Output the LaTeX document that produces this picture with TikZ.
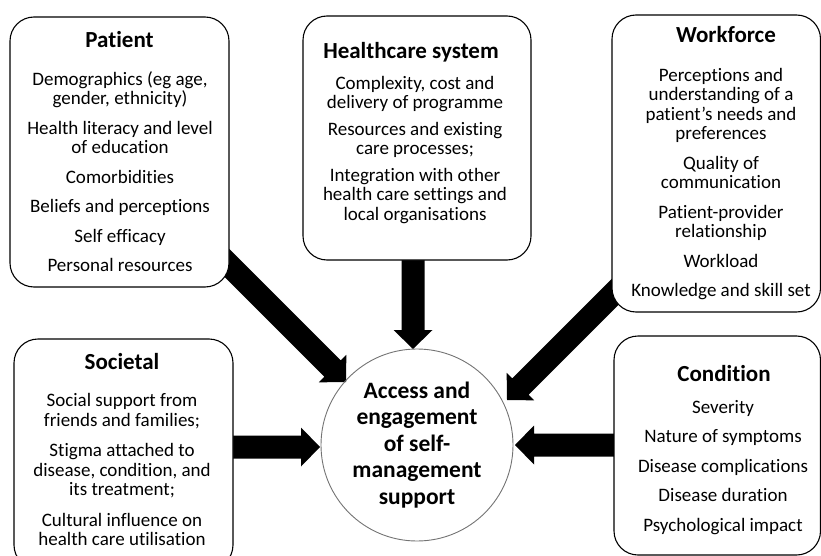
\documentclass[tikz,border=0pt]{standalone}
\usepackage{fontspec}
\setmainfont{Carlito}[Ligatures=NoCommon]
\usetikzlibrary{calc,backgrounds}

% thick block arrow: #1 prefix, #2 tail, #3 tip
\newcommand\blockarrow[3]{%
  \path ($(#3)!19pt!(#2)$) coordinate (#1-b);
  \fill ($(#2)!11.5pt!90:(#3)$) -- ($(#1-b)!11.5pt!90:(#3)$)
     -- ($(#1-b)!19.5pt!90:(#3)$) -- (#3)
     -- ($(#1-b)!19.5pt!-90:(#3)$) -- ($(#1-b)!11.5pt!-90:(#3)$)
     -- ($(#2)!11.5pt!-90:(#3)$) -- cycle;}

\begin{document}
\begin{tikzpicture}[x=1pt,y=-1pt,
  box/.style={draw=black, line width=1.1pt, rounded corners=24pt, fill=white,
    inner sep=0pt, rectangle},
  heading/.style={font=\bfseries\fontsize{23}{26}\selectfont, inner sep=0pt, anchor=base},
  body/.style={font=\fontsize{19}{19.5}\selectfont, align=center, inner sep=0pt},
  hubtext/.style={circle, draw=black!55, line width=0.9pt, minimum size=192pt,
    inner sep=0pt, align=center, font=\bfseries\fontsize{23.5}{26.5}\selectfont}]

\useasboundingbox (0,0) rectangle (821,556);

% factor boxes
\node[box, minimum width=219pt, minimum height=270pt] (patient) at (119.5,152) {};
\node[box, minimum width=228pt, minimum height=244pt] (health) at (417,138) {};
\node[box, minimum width=208.5pt, minimum height=297pt] (work) at (716.25,163.5) {};
\node[box, minimum width=219pt, minimum height=230pt] (soc) at (123.5,454) {};
\node[box, minimum width=206.5pt, minimum height=219pt] (cond) at (717.25,445.5) {};

% central outcome
\node[hubtext] (hub) at (417,445) {Access and\\engagement\\of self-\\management\\support};

% headings
\node[heading] (patient-t) at (119.5,48) {Patient};
\node[heading] (health-t) at (411,59) {Healthcare system};
\node[heading] (work-t) at (726,43) {Workforce};
\node[heading] (soc-t) at (122,369) {Societal};
\node[heading] (cond-t) at (724,381) {Condition};

% factor lists
\node[body] (patient-b) at (120,171.5) {Demographics (eg age,\\gender, ethnicity)\\[10pt]
  Health literacy and level\\of education\\[10pt]Comorbidities\\[10pt]
  Beliefs and perceptions\\[10pt]Self efficacy\\[10pt]Personal resources};
\node[body] (health-b) at (415,150) {Complexity, cost and\\delivery of programme\\[7pt]
  Resources and existing\\care processes;\\[7pt]
  Integration with other\\health care settings and\\local organisations};
\node[body] (work-b) at (721,184) {Perceptions and\\understanding of a\\patient’s needs and\\preferences\\[10pt]
  Quality of\\communication\\[10pt]Patient-provider\\relationship\\[10pt]
  Workload\\[10pt]Knowledge and skill set};
\node[body] (soc-b) at (122,469.5) {Social support from\\friends and families;\\[11pt]
  Stigma attached to\\disease, condition, and\\its treatment;\\[11pt]
  Cultural influence on\\health care utilisation};
\node[body] (cond-b) at (723,467.5) {Severity\\[10pt]Nature of symptoms\\[10pt]
  Disease complications\\[10pt]Disease duration\\[10pt]Psychological impact};

% arrow ends
\coordinate (pa-tip) at ($(hub.center)+(-71,-63)$);
\coordinate (pa-tail) at ($(pa-tip)+(-140,-140)$);
\coordinate (he-tip) at ($(hub.center)+(-4,-96)$);
\coordinate (he-tail) at ($(he-tip)+(0,-150)$);
\coordinate (wo-tip) at ($(hub.center)+(90,-45)$);
\coordinate (wo-tail) at ($(wo-tip)+(140,-140)$);
\coordinate (so-tip) at ($(hub.center)+(-97,2)$);
\coordinate (so-tail) at ($(so-tip)+(-120,0)$);
\coordinate (co-tip) at ($(hub.center)+(98,0)$);
\coordinate (co-tail) at ($(co-tip)+(145,0)$);

\begin{scope}[on background layer]
  \blockarrow{pa}{pa-tail}{pa-tip}
  \blockarrow{he}{he-tail}{he-tip}
  \blockarrow{wo}{wo-tail}{wo-tip}
  \blockarrow{so}{so-tail}{so-tip}
  \blockarrow{co}{co-tail}{co-tip}
\end{scope}
\end{tikzpicture}
\end{document}
